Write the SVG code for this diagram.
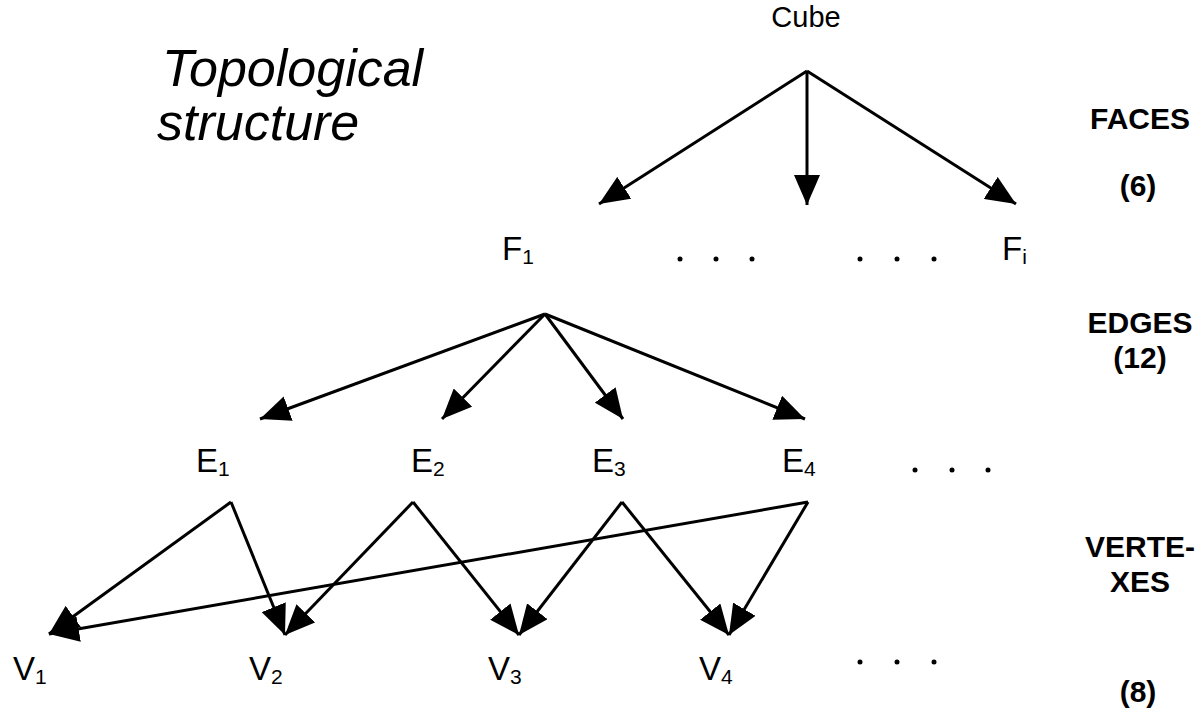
<svg xmlns="http://www.w3.org/2000/svg" width="1201" height="727" viewBox="0 0 1201 727">
<defs>
<style>
.lbl{font-family:"Liberation Sans",Arial,sans-serif;font-size:33px;fill:#000}
.sub{font-size:21px}
.side{font-family:"Liberation Sans",Arial,sans-serif;font-size:30px;font-weight:bold;fill:#000;text-anchor:middle}
.title{font-family:"Liberation Sans",Arial,sans-serif;font-size:52px;font-style:italic;fill:#000}
.edge{stroke:#000;stroke-width:3;fill:none;marker-end:url(#ah)}
.dot{fill:#000}
</style>
<marker id="ah" markerUnits="userSpaceOnUse" viewBox="0 0 30 26" refX="30" refY="13" markerWidth="30" markerHeight="26" orient="auto">
<path d="M0,0 L30,13 L0,26 Z" fill="#000"/>
</marker>
</defs>
<rect width="1201" height="727" fill="#fff"/>
<g id="title">
<text class="title" x="162" y="86">Topological</text>
<text class="title" x="157" y="140">structure</text>
</g>
<g id="cube"><text class="lbl" x="806" y="27" text-anchor="middle" style="font-size:29px">Cube</text></g>
<g id="F1"><text class="lbl" x="502" y="260">F<tspan class="sub" dy="4">1</tspan></text></g>
<g id="Fi"><text class="lbl" x="1002" y="260">F<tspan class="sub" dy="4">i</tspan></text></g>
<g id="E1"><text class="lbl" x="196" y="472">E<tspan class="sub" dy="4">1</tspan></text></g>
<g id="E2"><text class="lbl" x="411" y="472">E<tspan class="sub" dy="4">2</tspan></text></g>
<g id="E3"><text class="lbl" x="592" y="472">E<tspan class="sub" dy="4">3</tspan></text></g>
<g id="E4"><text class="lbl" x="782" y="472">E<tspan class="sub" dy="4">4</tspan></text></g>
<g id="V1"><text class="lbl" x="13" y="680">V<tspan class="sub" dy="4">1</tspan></text></g>
<g id="V2"><text class="lbl" x="249" y="680">V<tspan class="sub" dy="4">2</tspan></text></g>
<g id="V3"><text class="lbl" x="488" y="680">V<tspan class="sub" dy="4">3</tspan></text></g>
<g id="V4"><text class="lbl" x="699" y="680">V<tspan class="sub" dy="4">4</tspan></text></g>
<g id="dots">
<circle class="dot" cx="680" cy="259" r="2.5"/><circle class="dot" cx="716" cy="259" r="2.5"/><circle class="dot" cx="752" cy="259" r="2.5"/>
<circle class="dot" cx="860" cy="259" r="2.5"/><circle class="dot" cx="897" cy="259" r="2.5"/><circle class="dot" cx="934" cy="259" r="2.5"/>
<circle class="dot" cx="915" cy="470" r="2.5"/><circle class="dot" cx="952" cy="470" r="2.5"/><circle class="dot" cx="988" cy="470" r="2.5"/>
<circle class="dot" cx="860" cy="662" r="2.5"/><circle class="dot" cx="897" cy="662" r="2.5"/><circle class="dot" cx="934" cy="662" r="2.5"/>
</g>
<g id="sidelabels">
<text class="side" x="1140" y="129">FACES</text>
<text class="side" x="1138" y="196">(6)</text>
<text class="side" x="1140" y="333">EDGES</text>
<text class="side" x="1140" y="368">(12)</text>
<text class="side" x="1140" y="557">VERTE-</text>
<text class="side" x="1140" y="592">XES</text>
<text class="side" x="1138" y="702">(8)</text>
</g>
<g id="connectors">
<line class="edge" x1="807" y1="71" x2="599" y2="204"/>
<line class="edge" x1="807" y1="71" x2="807" y2="205"/>
<line class="edge" x1="807" y1="71" x2="1016" y2="204"/>
<line class="edge" x1="545" y1="314" x2="260" y2="419"/>
<line class="edge" x1="545" y1="314" x2="442" y2="419"/>
<line class="edge" x1="545" y1="314" x2="623" y2="419"/>
<line class="edge" x1="545" y1="314" x2="805" y2="419"/>
<line class="edge" x1="231" y1="502" x2="49" y2="634"/>
<line class="edge" x1="231" y1="502" x2="285" y2="635"/>
<line class="edge" x1="413" y1="502" x2="285" y2="635"/>
<line class="edge" x1="413" y1="502" x2="519" y2="635"/>
<line class="edge" x1="622" y1="502" x2="519" y2="635"/>
<line class="edge" x1="622" y1="502" x2="729" y2="635"/>
<line class="edge" x1="808" y1="502" x2="729" y2="635"/>
<line class="edge" x1="808" y1="502" x2="49" y2="634"/>
</g>
</svg>
